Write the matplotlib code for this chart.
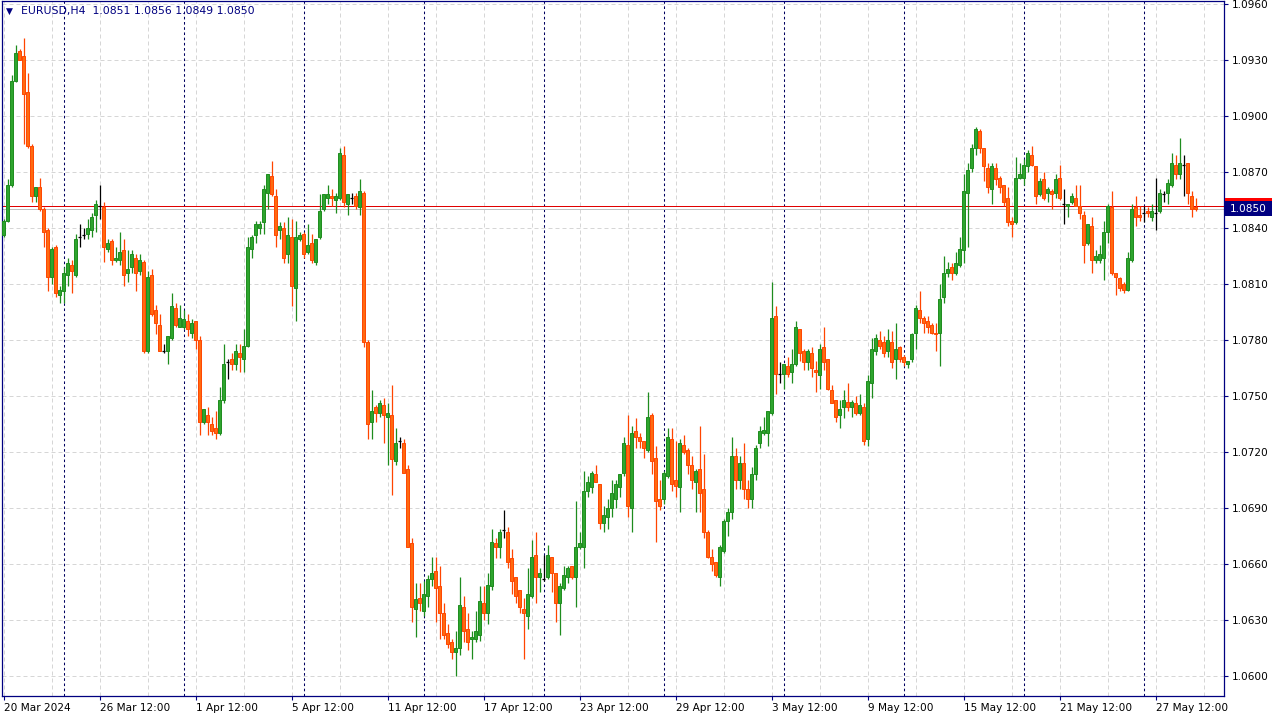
import numpy as np
import matplotlib.pyplot as plt
from matplotlib.patches import Rectangle
import matplotlib.transforms as mtransforms

# EURUSD H4, 20 Mar 2024 12:00 ... 29 May 2024 00:00
opens = [
    1.0836, 1.0844, 1.0863, 1.0919, 1.0935, 1.0932, 1.0913, 1.0884, 1.0857, 1.0862,
    1.0850, 1.0839, 1.0814, 1.0830, 1.0804, 1.0806, 1.0815, 1.0820, 1.0815, 1.0835,
    1.0836, 1.0837, 1.0839, 1.0847, 1.0852, 1.0851, 1.0829, 1.0833, 1.0823, 1.0823,
    1.0828, 1.0816, 1.0819, 1.0824, 1.0817, 1.0822, 1.0774, 1.0815, 1.0796, 1.0788,
    1.0774, 1.0774, 1.0781, 1.0797, 1.0787, 1.0787, 1.0790, 1.0784, 1.0790, 1.0780,
    1.0736, 1.0740, 1.0735, 1.0733, 1.0730, 1.0748, 1.0768, 1.0770, 1.0767, 1.0773,
    1.0770, 1.0777, 1.0829, 1.0836, 1.0840, 1.0843, 1.0859, 1.0868, 1.0857, 1.0839,
    1.0840, 1.0826, 1.0835, 1.0808, 1.0834, 1.0837, 1.0827, 1.0832, 1.0822, 1.0835,
    1.0850, 1.0856, 1.0857, 1.0855, 1.0856, 1.0879, 1.0853, 1.0856, 1.0857, 1.0851,
    1.0859, 1.0779, 1.0736, 1.0744, 1.0741, 1.0745, 1.0739, 1.0740, 1.0715, 1.0726,
    1.0725, 1.0711, 1.0671, 1.0636, 1.0642, 1.0635, 1.0643, 1.0652, 1.0656, 1.0648,
    1.0634, 1.0623, 1.0618, 1.0613, 1.0615, 1.0637, 1.0625, 1.0620, 1.0620, 1.0622,
    1.0639, 1.0634, 1.0648, 1.0671, 1.0669, 1.0678, 1.0677, 1.0663, 1.0653, 1.0646,
    1.0636, 1.0632, 1.0643, 1.0665, 1.0653, 1.0652, 1.0653, 1.0664, 1.0655, 1.0639,
    1.0647, 1.0653, 1.0659, 1.0653, 1.0669, 1.0669, 1.0699, 1.0701, 1.0708, 1.0703,
    1.0682, 1.0685, 1.0690, 1.0695, 1.0701, 1.0709, 1.0724, 1.0690, 1.0731, 1.0728,
    1.0726, 1.0721, 1.0740, 1.0717, 1.0695, 1.0695, 1.0707, 1.0727, 1.0705, 1.0701,
    1.0724, 1.0721, 1.0713, 1.0704, 1.0711, 1.0700, 1.0677, 1.0664, 1.0661, 1.0653,
    1.0667, 1.0683, 1.0688, 1.0718, 1.0705, 1.0714, 1.0700, 1.0695, 1.0708, 1.0725,
    1.0730, 1.0730, 1.0741, 1.0793, 1.0762, 1.0762, 1.0766, 1.0763, 1.0767, 1.0786,
    1.0774, 1.0768, 1.0773, 1.0764, 1.0761, 1.0776, 1.0770, 1.0753, 1.0748, 1.0740,
    1.0744, 1.0747, 1.0744, 1.0746, 1.0741, 1.0744, 1.0727, 1.0757, 1.0774, 1.0780,
    1.0779, 1.0774, 1.0779, 1.0770, 1.0776, 1.0771, 1.0767, 1.0770, 1.0784, 1.0796,
    1.0792, 1.0790, 1.0788, 1.0784, 1.0784, 1.0803, 1.0816, 1.0819, 1.0816, 1.0820,
    1.0828, 1.0859, 1.0872, 1.0883, 1.0892, 1.0883, 1.0872, 1.0861, 1.0872, 1.0867,
    1.0863, 1.0856, 1.0844, 1.0843, 1.0867, 1.0867, 1.0873, 1.0879, 1.0873, 1.0858,
    1.0866, 1.0859, 1.0860, 1.0859, 1.0867, 1.0853, 1.0852, 1.0854, 1.0856, 1.0852,
    1.0847, 1.0832, 1.0841, 1.0823, 1.0823, 1.0824, 1.0838, 1.0851, 1.0816, 1.0813,
    1.0810, 1.0807, 1.0823, 1.0851, 1.0847, 1.0848, 1.0849, 1.0846, 1.0848, 1.0849,
    1.0858, 1.0859, 1.0863, 1.0874, 1.0869, 1.0874, 1.0875, 1.0857, 1.0851,
]
highs = [
    1.0845, 1.0866, 1.0922, 1.0938, 1.0936, 1.0942, 1.0923, 1.0885, 1.0862, 1.0867,
    1.0851, 1.0840, 1.0830, 1.0831, 1.0809, 1.0819, 1.0824, 1.0823, 1.0837, 1.0842,
    1.0840, 1.0845, 1.0848, 1.0855, 1.0863, 1.0854, 1.0834, 1.0834, 1.0830, 1.0838,
    1.0834, 1.0828, 1.0828, 1.0826, 1.0826, 1.0823, 1.0817, 1.0818, 1.0799, 1.0794,
    1.0778, 1.0782, 1.0805, 1.0800, 1.0799, 1.0796, 1.0794, 1.0791, 1.0790, 1.0782,
    1.0743, 1.0744, 1.0739, 1.0742, 1.0755, 1.0778, 1.0770, 1.0773, 1.0778, 1.0778,
    1.0786, 1.0835, 1.0836, 1.0844, 1.0844, 1.0863, 1.0869, 1.0876, 1.0861, 1.0843,
    1.0843, 1.0846, 1.0845, 1.0844, 1.0838, 1.0838, 1.0842, 1.0837, 1.0834, 1.0858,
    1.0858, 1.0863, 1.0861, 1.0859, 1.0883, 1.0884, 1.0858, 1.0859, 1.0859, 1.0866,
    1.0860, 1.0780, 1.0753, 1.0745, 1.0748, 1.0749, 1.0746, 1.0756, 1.0733, 1.0728,
    1.0727, 1.0713, 1.0674, 1.0650, 1.0650, 1.0651, 1.0654, 1.0664, 1.0664, 1.0659,
    1.0639, 1.0628, 1.0620, 1.0624, 1.0653, 1.0643, 1.0634, 1.0624, 1.0635, 1.0648,
    1.0648, 1.0655, 1.0679, 1.0674, 1.0679, 1.0689, 1.0680, 1.0668, 1.0653, 1.0646,
    1.0642, 1.0658, 1.0673, 1.0677, 1.0658, 1.0665, 1.0670, 1.0664, 1.0655, 1.0650,
    1.0659, 1.0659, 1.0659, 1.0694, 1.0677, 1.0710, 1.0707, 1.0710, 1.0713, 1.0703,
    1.0691, 1.0695, 1.0705, 1.0705, 1.0708, 1.0728, 1.0740, 1.0734, 1.0738, 1.0730,
    1.0726, 1.0752, 1.0741, 1.0723, 1.0705, 1.0710, 1.0733, 1.0733, 1.0726, 1.0727,
    1.0729, 1.0722, 1.0718, 1.0711, 1.0734, 1.0719, 1.0678, 1.0668, 1.0661, 1.0670,
    1.0684, 1.0690, 1.0728, 1.0722, 1.0718, 1.0725, 1.0705, 1.0712, 1.0724, 1.0734,
    1.0739, 1.0742, 1.0811, 1.0798, 1.0768, 1.0767, 1.0771, 1.0775, 1.0790, 1.0786,
    1.0775, 1.0775, 1.0776, 1.0769, 1.0778, 1.0787, 1.0770, 1.0756, 1.0748, 1.0748,
    1.0753, 1.0757, 1.0748, 1.0750, 1.0751, 1.0746, 1.0761, 1.0781, 1.0783, 1.0785,
    1.0782, 1.0786, 1.0785, 1.0789, 1.0777, 1.0772, 1.0769, 1.0784, 1.0799, 1.0806,
    1.0793, 1.0793, 1.0789, 1.0789, 1.0810, 1.0825, 1.0822, 1.0821, 1.0827, 1.0835,
    1.0869, 1.0875, 1.0885, 1.0894, 1.0893, 1.0883, 1.0875, 1.0875, 1.0875, 1.0868,
    1.0863, 1.0862, 1.0846, 1.0878, 1.0875, 1.0877, 1.0882, 1.0884, 1.0873, 1.0867,
    1.0870, 1.0862, 1.0861, 1.0869, 1.0874, 1.0861, 1.0853, 1.0859, 1.0863, 1.0863,
    1.0849, 1.0842, 1.0846, 1.0828, 1.0831, 1.0844, 1.0853, 1.0860, 1.0816, 1.0814,
    1.0811, 1.0827, 1.0853, 1.0857, 1.0852, 1.0852, 1.0851, 1.0853, 1.0867, 1.0861,
    1.0860, 1.0866, 1.0880, 1.0879, 1.0888, 1.0879, 1.0875, 1.0860, 1.0856,
]
lows = [
    1.0835, 1.0843, 1.0862, 1.0918, 1.0930, 1.0885, 1.0883, 1.0854, 1.0854, 1.0849,
    1.0830, 1.0806, 1.0810, 1.0803, 1.0800, 1.0800, 1.0809, 1.0805, 1.0814, 1.0830,
    1.0834, 1.0834, 1.0835, 1.0838, 1.0845, 1.0822, 1.0827, 1.0820, 1.0822, 1.0820,
    1.0809, 1.0811, 1.0816, 1.0806, 1.0815, 1.0773, 1.0773, 1.0793, 1.0783, 1.0774,
    1.0773, 1.0767, 1.0780, 1.0787, 1.0787, 1.0786, 1.0782, 1.0781, 1.0775, 1.0729,
    1.0735, 1.0729, 1.0729, 1.0727, 1.0729, 1.0746, 1.0759, 1.0764, 1.0764, 1.0763,
    1.0763, 1.0776, 1.0824, 1.0832, 1.0837, 1.0837, 1.0850, 1.0857, 1.0830, 1.0834,
    1.0821, 1.0821, 1.0798, 1.0790, 1.0833, 1.0824, 1.0826, 1.0821, 1.0820, 1.0834,
    1.0849, 1.0853, 1.0852, 1.0848, 1.0855, 1.0851, 1.0847, 1.0853, 1.0850, 1.0847,
    1.0776, 1.0727, 1.0727, 1.0736, 1.0739, 1.0725, 1.0713, 1.0697, 1.0713, 1.0722,
    1.0709, 1.0669, 1.0629, 1.0621, 1.0635, 1.0632, 1.0637, 1.0648, 1.0629, 1.0620,
    1.0620, 1.0615, 1.0609, 1.0600, 1.0611, 1.0618, 1.0614, 1.0609, 1.0618, 1.0619,
    1.0630, 1.0628, 1.0646, 1.0663, 1.0663, 1.0674, 1.0658, 1.0644, 1.0639, 1.0634,
    1.0609, 1.0625, 1.0642, 1.0639, 1.0645, 1.0651, 1.0652, 1.0645, 1.0629, 1.0622,
    1.0646, 1.0650, 1.0652, 1.0637, 1.0668, 1.0658, 1.0696, 1.0698, 1.0704, 1.0679,
    1.0677, 1.0679, 1.0685, 1.0690, 1.0696, 1.0707, 1.0685, 1.0677, 1.0722, 1.0722,
    1.0717, 1.0720, 1.0708, 1.0672, 1.0689, 1.0692, 1.0706, 1.0699, 1.0696, 1.0688,
    1.0719, 1.0708, 1.0700, 1.0688, 1.0688, 1.0674, 1.0663, 1.0656, 1.0653, 1.0648,
    1.0666, 1.0675, 1.0684, 1.0700, 1.0700, 1.0695, 1.0690, 1.0690, 1.0705, 1.0722,
    1.0729, 1.0723, 1.0740, 1.0751, 1.0757, 1.0754, 1.0760, 1.0757, 1.0766, 1.0769,
    1.0764, 1.0764, 1.0760, 1.0752, 1.0754, 1.0764, 1.0753, 1.0746, 1.0736, 1.0733,
    1.0738, 1.0742, 1.0739, 1.0740, 1.0740, 1.0724, 1.0723, 1.0749, 1.0772, 1.0775,
    1.0771, 1.0771, 1.0765, 1.0759, 1.0768, 1.0766, 1.0765, 1.0768, 1.0775, 1.0789,
    1.0784, 1.0784, 1.0783, 1.0774, 1.0766, 1.0800, 1.0814, 1.0812, 1.0815, 1.0819,
    1.0821, 1.0830, 1.0870, 1.0879, 1.0880, 1.0865, 1.0859, 1.0853, 1.0863, 1.0859,
    1.0852, 1.0841, 1.0835, 1.0842, 1.0866, 1.0863, 1.0870, 1.0873, 1.0853, 1.0857,
    1.0855, 1.0854, 1.0850, 1.0856, 1.0855, 1.0842, 1.0846, 1.0853, 1.0852, 1.0845,
    1.0821, 1.0831, 1.0816, 1.0821, 1.0821, 1.0812, 1.0832, 1.0815, 1.0804, 1.0806,
    1.0805, 1.0806, 1.0822, 1.0841, 1.0844, 1.0843, 1.0846, 1.0844, 1.0839, 1.0848,
    1.0854, 1.0853, 1.0862, 1.0866, 1.0866, 1.0857, 1.0853, 1.0846, 1.0849,
]
closes = [
    1.0844, 1.0863, 1.0919, 1.0934, 1.0930, 1.0912, 1.0884, 1.0857, 1.0862, 1.0850,
    1.0838, 1.0814, 1.0829, 1.0805, 1.0807, 1.0816, 1.0821, 1.0817, 1.0834, 1.0835,
    1.0836, 1.0840, 1.0846, 1.0853, 1.0852, 1.0830, 1.0832, 1.0823, 1.0824, 1.0827,
    1.0815, 1.0818, 1.0826, 1.0816, 1.0823, 1.0774, 1.0814, 1.0794, 1.0789, 1.0774,
    1.0774, 1.0782, 1.0798, 1.0788, 1.0792, 1.0791, 1.0786, 1.0789, 1.0780, 1.0736,
    1.0743, 1.0736, 1.0731, 1.0730, 1.0748, 1.0767, 1.0768, 1.0767, 1.0774, 1.0771,
    1.0777, 1.0830, 1.0835, 1.0842, 1.0842, 1.0861, 1.0869, 1.0858, 1.0836, 1.0841,
    1.0824, 1.0836, 1.0809, 1.0835, 1.0836, 1.0826, 1.0831, 1.0823, 1.0834, 1.0849,
    1.0858, 1.0858, 1.0856, 1.0857, 1.0880, 1.0854, 1.0858, 1.0856, 1.0852, 1.0860,
    1.0779, 1.0735, 1.0742, 1.0741, 1.0746, 1.0740, 1.0741, 1.0716, 1.0725, 1.0726,
    1.0709, 1.0669, 1.0637, 1.0641, 1.0639, 1.0644, 1.0652, 1.0655, 1.0647, 1.0634,
    1.0622, 1.0617, 1.0613, 1.0615, 1.0638, 1.0624, 1.0618, 1.0621, 1.0624, 1.0640,
    1.0634, 1.0649, 1.0672, 1.0669, 1.0677, 1.0678, 1.0661, 1.0651, 1.0643, 1.0637,
    1.0634, 1.0644, 1.0664, 1.0653, 1.0655, 1.0652, 1.0665, 1.0655, 1.0639, 1.0648,
    1.0654, 1.0658, 1.0653, 1.0669, 1.0671, 1.0699, 1.0704, 1.0709, 1.0704, 1.0682,
    1.0686, 1.0690, 1.0698, 1.0703, 1.0708, 1.0725, 1.0691, 1.0730, 1.0728, 1.0726,
    1.0722, 1.0739, 1.0715, 1.0694, 1.0691, 1.0709, 1.0728, 1.0703, 1.0702, 1.0725,
    1.0720, 1.0713, 1.0705, 1.0710, 1.0698, 1.0677, 1.0664, 1.0660, 1.0654, 1.0669,
    1.0683, 1.0688, 1.0718, 1.0705, 1.0714, 1.0700, 1.0695, 1.0708, 1.0722, 1.0731,
    1.0732, 1.0742, 1.0792, 1.0762, 1.0762, 1.0767, 1.0762, 1.0767, 1.0787, 1.0773,
    1.0768, 1.0774, 1.0765, 1.0763, 1.0775, 1.0768, 1.0754, 1.0746, 1.0739, 1.0743,
    1.0748, 1.0744, 1.0747, 1.0741, 1.0745, 1.0726, 1.0758, 1.0775, 1.0781, 1.0777,
    1.0773, 1.0780, 1.0768, 1.0775, 1.0770, 1.0768, 1.0769, 1.0783, 1.0797, 1.0792,
    1.0789, 1.0787, 1.0784, 1.0783, 1.0802, 1.0816, 1.0818, 1.0816, 1.0821, 1.0829,
    1.0860, 1.0871, 1.0883, 1.0893, 1.0883, 1.0873, 1.0862, 1.0873, 1.0866, 1.0862,
    1.0854, 1.0843, 1.0842, 1.0867, 1.0869, 1.0874, 1.0880, 1.0874, 1.0857, 1.0865,
    1.0856, 1.0861, 1.0858, 1.0866, 1.0856, 1.0853, 1.0853, 1.0857, 1.0852, 1.0848,
    1.0831, 1.0842, 1.0823, 1.0825, 1.0826, 1.0838, 1.0852, 1.0816, 1.0814, 1.0808,
    1.0807, 1.0824, 1.0850, 1.0846, 1.0846, 1.0848, 1.0848, 1.0849, 1.0848, 1.0859,
    1.0858, 1.0864, 1.0875, 1.0869, 1.0875, 1.0874, 1.0859, 1.0850, 1.0850,
]

bid = 1.0850
ask = 1.0852

price_ticks = [1.0600, 1.0630, 1.0660, 1.0690, 1.0720, 1.0750, 1.0780,
               1.0810, 1.0840, 1.0870, 1.0900, 1.0930, 1.0960]
time_labels = ['20 Mar 2024', '26 Mar 12:00', '1 Apr 12:00', '5 Apr 12:00',
               '11 Apr 12:00', '17 Apr 12:00', '23 Apr 12:00', '29 Apr 12:00',
               '3 May 12:00', '9 May 12:00', '15 May 12:00', '21 May 12:00',
               '27 May 12:00']

navy = '#000080'
bull_fill, bull_edge = '#2EA52E', '#1E8C1E'
bear_fill, bear_edge = '#FF6A10', '#FF4500'

plt.rcParams['font.family'] = 'DejaVu Sans'

o = np.array(opens)
h = np.array(highs)
l = np.array(lows)
c = np.array(closes)
x = np.arange(len(c))
flat = np.isclose(o, c)
up = (c > o) & ~flat
dn = (c < o) & ~flat

fig = plt.figure(figsize=(12.8, 7.2), dpi=100)
ax = fig.add_axes([2/1280, 24/720, 1222/1280, 695/720])
ax.set_xlim(-0.375, 305.125)
ax.set_ylim(1.05893, 1.09616)

# grid
for p in price_ticks:
    ax.axhline(p, color='#D6D6D6', lw=0.72, dashes=(4, 3), zorder=0)
for g in range(0, len(c) + 12, 12):
    ax.axvline(g, color='#D6D6D6', lw=0.72, dashes=(4, 3), zorder=0)
# weekly separators
for s in range(15, len(c), 30):
    ax.axvline(s, color='#000060', lw=0.75, dashes=(2.5, 2.5), zorder=1)

# candles
ax.vlines(x[up], l[up], h[up], color=bull_edge, lw=0.9, zorder=3)
ax.vlines(x[dn], l[dn], h[dn], color=bear_edge, lw=0.9, zorder=3)
ax.vlines(x[flat], l[flat], h[flat], color='black', lw=0.9, zorder=3)
ax.bar(x[up], c[up] - o[up], bottom=o[up], width=0.7,
       color=bull_fill, edgecolor=bull_edge, lw=0.7, zorder=4)
ax.bar(x[dn], o[dn] - c[dn], bottom=c[dn], width=0.7,
       color=bear_fill, edgecolor=bear_edge, lw=0.7, zorder=4)
ax.hlines(c[flat], x[flat] - 0.4, x[flat] + 0.4, color='black', lw=0.9, zorder=4)

# bid / ask lines
ax.axhline(bid, color='#C0C0C0', lw=0.72, zorder=2)
ax.axhline(ask, color='#E00000', lw=0.72, zorder=2)

# axes styling
for sp in ax.spines.values():
    sp.set_color(navy)
    sp.set_linewidth(0.9)
ax.yaxis.tick_right()
ax.set_yticks(price_ticks)
ax.set_yticklabels(['%.4f' % p for p in price_ticks])
ax.set_xticks(range(0, len(c), 24))
ax.set_xticklabels(time_labels, ha='left')
ax.tick_params(axis='both', direction='out', length=3, width=0.8,
               color=navy, labelsize=7.6, labelcolor='black')
ax.tick_params(axis='y', pad=3)
ax.tick_params(axis='x', pad=2)

# current price labels
trans = mtransforms.blended_transform_factory(ax.transAxes, ax.transData)
hpx = 15 * (0.036 / 672)
ax.add_patch(Rectangle((1.0008, ask - hpx / 2), 47 / 1222, hpx, transform=trans,
                       facecolor='#FF0000', edgecolor='none', clip_on=False, zorder=5))
ax.add_patch(Rectangle((1.0008, bid - hpx / 2 + 0.00002), 47 / 1222, hpx, transform=trans,
                       facecolor=navy, edgecolor='none', clip_on=False, zorder=6))
ax.text(1.0008 + 23.5 / 1222, bid + 0.00002, '%.4f' % bid, transform=trans,
        ha='center', va='center', color='white', fontsize=7.6, zorder=7)

# header
fig.text(6 / 1280, 1 - 11 / 720, '\u25BC', color=navy, fontsize=6.5, va='center')
fig.text(21 / 1280, 1 - 11 / 720, 'EURUSD,H4  1.0851 1.0856 1.0849 1.0850',
         color=navy, fontsize=7.8, va='center')

fig.savefig('out.png', dpi=100, facecolor='white')
